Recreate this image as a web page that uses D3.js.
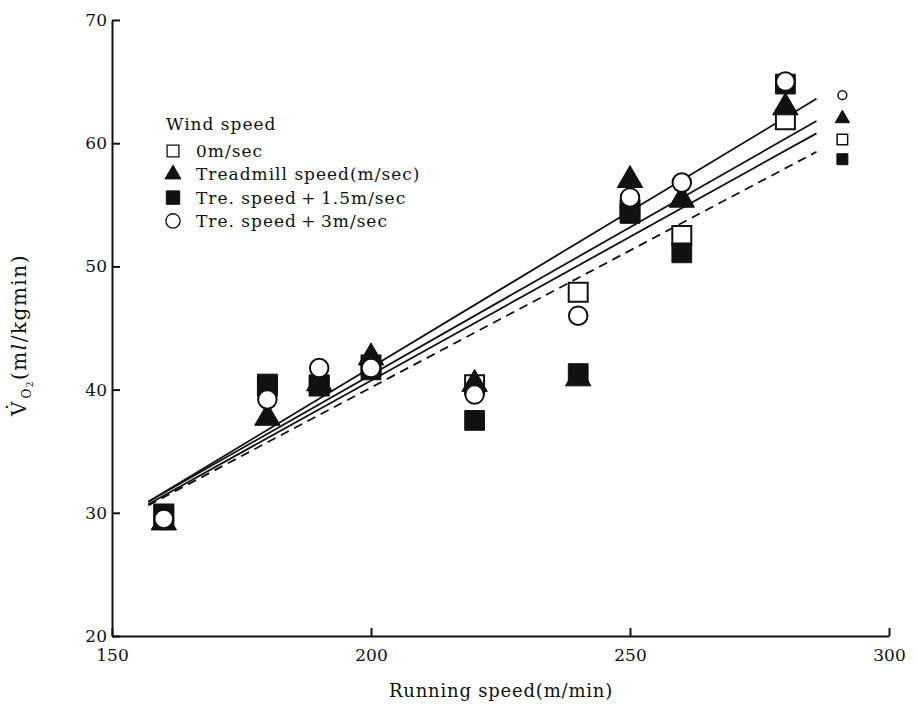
<!DOCTYPE html>
<html><head><meta charset="utf-8">
<script src="https://cdn.jsdelivr.net/npm/d3@7"></script>
<style>
body{margin:0;background:#fff}
text{font-family:"DejaVu Serif","Liberation Serif",serif;fill:#111}
</style>
</head><body>
<svg id="chart" width="918" height="726"></svg>
<script>
// ---- data ----
const speeds = [160, 180, 190, 200, 220, 240, 250, 260, 280];
const vo2Wind0   = [29.9, 40.3, 40.3, 42.0, 40.4, 47.9, 54.6, 52.5, 61.9];   // open square
const vo2Tread   = [29.2, 37.7, 40.5, 42.6, 40.45, 40.9, 57.0, 55.4, 62.9];  // triangle
const vo2Tre15   = [29.8, 40.45, 40.4, 41.6, 37.5, 41.3, 54.3, 51.1, 64.8];  // filled square
const vo2Tre3    = [29.5, 39.2, 41.75, 41.75, 39.6, 46.0, 55.6, 56.8, 65.0]; // circle
// regression lines (start / end)
const lineSpeeds = [157, 286];
const lineTre3   = [30.9, 63.6];
const lineTread  = [30.9, 61.8];
const lineWind0  = [30.7, 60.8];
const lineTre15  = [30.6, 59.3];
// small end-of-line markers
const endSpeed = 291;
const endValues = {tre3: 63.9, tread: 62.0, wind0: 60.3, tre15: 58.7};
const xTicks = [150, 200, 250, 300];
const yTicks = [20, 30, 40, 50, 60, 70];
const legendTitle = "Wind speed";
const legendLabels = ["0m/sec", "Treadmill speed(m/sec)", "Tre. speed\u2009+\u20091.5m/sec", "Tre. speed\u2009+\u20093m/sec"];

// ---- drawing ----
const svg = d3.select("#chart");
const x = d3.scaleLinear().domain([150, 300]).range([112, 889]);
const y = d3.scaleLinear().domain([20, 70]).range([636, 20]);

const xAxis = svg.append("g").attr("transform", `translate(0,${y(20)})`)
  .call(d3.axisBottom(x).tickValues(xTicks).tickSizeInner(-8).tickSizeOuter(0).tickPadding(13));
const yAxis = svg.append("g").attr("transform", `translate(${x(150)},0)`)
  .call(d3.axisLeft(y).tickValues(yTicks).tickSizeInner(-8).tickSizeOuter(0).tickPadding(5));
[xAxis, yAxis].forEach(g => {
  g.select(".domain").attr("stroke", "#111").attr("stroke-width", 2);
  g.selectAll(".tick line").attr("stroke", "#111").attr("stroke-width", 2);
  g.selectAll(".tick text").attr("font-size", 17).attr("font-family", '"DejaVu Serif",serif').attr("fill", "#111");
});

// axis titles
svg.append("text").attr("x", 501).attr("y", 697).attr("text-anchor", "middle")
  .attr("font-size", 18).attr("letter-spacing", 0.8).text("Running speed(m/min)");

const yt = svg.append("text").attr("transform", "translate(26,335) rotate(-90)")
  .attr("text-anchor", "middle").attr("font-size", 20).attr("letter-spacing", 1.5);
yt.append("tspan").text("V");
yt.append("tspan").attr("dx", -12).attr("dy", -5).text("\u02D9");
yt.append("tspan").attr("font-size", 12).attr("dx", 2).attr("dy", 10).text("O");
yt.append("tspan").attr("font-size", 9).attr("dy", 2).text("2");
yt.append("tspan").attr("dy", -7).text("(m");
yt.append("tspan").attr("font-style", "italic").text("l");
yt.append("tspan").text("/kgmin)");

// regression lines
const lineGen = d3.line().x(d => x(d[0])).y(d => y(d[1]));
const lines = [
  {vals: lineTre3, dash: null},
  {vals: lineTread, dash: null},
  {vals: lineWind0, dash: null},
  {vals: lineTre15, dash: "9,6"}
];
lines.forEach(l => {
  svg.append("path").datum(lineSpeeds.map((s, i) => [s, l.vals[i]]))
    .attr("d", lineGen).attr("fill", "none").attr("stroke", "#111")
    .attr("stroke-width", 1.8).attr("stroke-dasharray", l.dash);
});

// markers
const symSquare = d3.symbol().type(d3.symbolSquare);
const symTri = d3.symbol().type(d3.symbolTriangle);
const symCircle = d3.symbol().type(d3.symbolCircle);
function drawSeries(vals, sym, size, fill, stroke) {
  svg.append("g").selectAll("path").data(speeds.map((s, i) => [s, vals[i]])).join("path")
    .attr("transform", d => `translate(${x(d[0])},${y(d[1])})`)
    .attr("d", sym.size(size)())
    .attr("fill", fill).attr("stroke", "#111").attr("stroke-width", stroke);
}
drawSeries(vo2Wind0, symSquare, 360, "#fff", 2);
drawSeries(vo2Tre15, symSquare, 390, "#111", 1);
drawSeries(vo2Tread, symTri, 280, "#111", 1);
drawSeries(vo2Tre3, symCircle, 270, "#fff", 2);

// small end markers
const endG = svg.append("g");
function endMark(v, sym, size, fill, sw) {
  endG.append("path").attr("transform", `translate(${x(endSpeed)},${y(v)})`)
    .attr("d", sym.size(size)()).attr("fill", fill).attr("stroke", "#111").attr("stroke-width", sw);
}
endMark(endValues.tre3, symCircle, 60, "#fff", 1.5);
endMark(endValues.tread, symTri, 90, "#111", 1);
endMark(endValues.wind0, symSquare, 110, "#fff", 1.5);
endMark(endValues.tre15, symSquare, 120, "#111", 1);

// legend
const lg = svg.append("g").attr("transform", "translate(166,0)");
lg.append("text").attr("x", 0).attr("y", 130).attr("font-size", 17).attr("letter-spacing", 1).text(legendTitle);
const legSyms = [
  {sym: symSquare, size: 140, fill: "#fff", sw: 1.3},
  {sym: symTri, size: 110, fill: "#111", sw: 1},
  {sym: symSquare, size: 180, fill: "#111", sw: 1},
  {sym: symCircle, size: 160, fill: "#fff", sw: 1.3}
];
legendLabels.forEach((lab, i) => {
  const yy = 151 + i * 23.3;
  const s = legSyms[i];
  lg.append("path").attr("transform", `translate(7,${yy})`).attr("d", s.sym.size(s.size)())
    .attr("fill", s.fill).attr("stroke", "#111").attr("stroke-width", s.sw);
  lg.append("text").attr("x", 30).attr("y", yy + 6).attr("font-size", 17).attr("letter-spacing", 1).text(lab);
});
</script>
</body></html>
